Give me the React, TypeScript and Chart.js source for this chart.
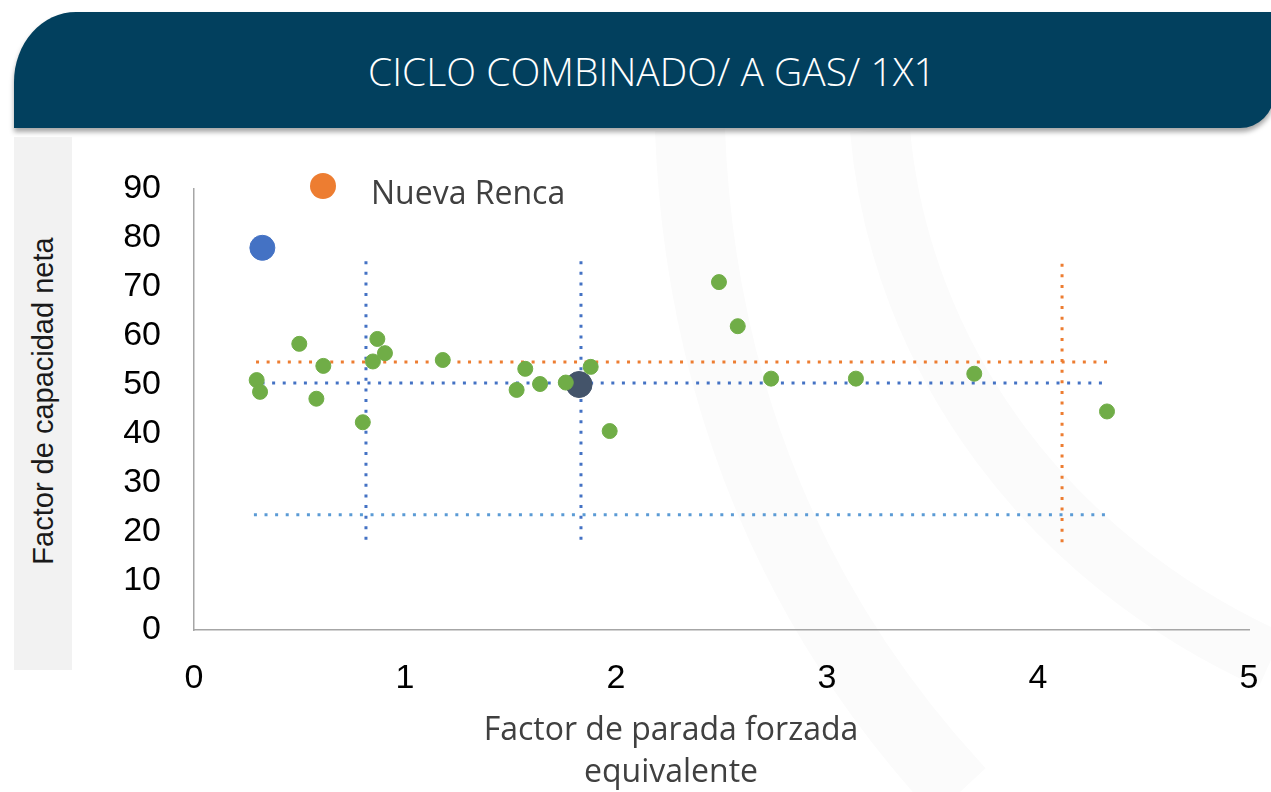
import React, { useEffect, useRef } from "react";
import { Chart, registerables } from "chart.js";

Chart.register(...registerables);

// ---- Data ----
const titleText = "CICLO COMBINADO/ A GAS/ 1X1";
const legendLabel = "Nueva Renca";
const yAxisTitle = "Factor de capacidad neta";
const xAxisTitleLines = ["Factor de parada forzada", "equivalente"];

const xMin = 0;
const xMax = 5;
const xStep = 1;
const yMin = 0;
const yMax = 90;
const yStep = 10;

// Plants (green)
const plantX = [0.297, 0.313, 0.499, 0.58, 0.613, 0.8, 0.848, 0.869, 0.905, 1.179, 1.529, 1.57, 1.64, 1.762, 1.88, 1.97, 2.488, 2.577, 2.735, 3.137, 3.698, 4.327];
const plantY = [51.0, 48.6, 58.4, 47.2, 53.9, 42.4, 54.8, 59.4, 56.5, 55.1, 49.0, 53.3, 50.2, 50.5, 53.7, 40.6, 71.0, 62.0, 51.3, 51.3, 52.3, 44.6];

// Highlight points
const blueX = [0.324];
const blueY = [78.0];
const navyX = [1.825];
const navyY = [50.1];

// Reference dotted lines (start / end)
const orangeHX = [0.294, 4.34];
const orangeHY = [54.7, 54.7];
const blueHX = [0.32, 4.33];
const blueHY = [50.4, 50.4];
const lowHX = [0.284, 4.34];
const lowHY = [23.5, 23.5];
const blueV1X = [0.815, 0.815];
const blueV1Y = [18.4, 75.3];
const blueV2X = [1.834, 1.834];
const blueV2Y = [18.4, 75.5];
const orangeVX = [4.114, 4.114];
const orangeVY = [17.9, 75.3];

const pts = (xs: number[], ys: number[]) => xs.map((x, i) => ({ x, y: ys[i] }));

const dotted = (label: string, xs: number[], ys: number[], color: string) => ({
  label,
  data: pts(xs, ys),
  showLine: true,
  borderColor: color,
  backgroundColor: color,
  borderWidth: 3,
  borderDash: [3, 7.6],
  borderCapStyle: "butt" as const,
  pointRadius: 0,
  pointHoverRadius: 0,
  fill: false,
  order: 10,
});

export default function App() {
  const canvasRef = useRef<HTMLCanvasElement | null>(null);

  useEffect(() => {
    const prevMargin = document.body.style.margin;
    document.body.style.margin = "0";
    if (!canvasRef.current) return;
    const chart = new Chart(canvasRef.current, {
      type: "scatter",
      data: {
        datasets: [
          {
            label: "Plantas",
            data: pts(plantX, plantY),
            backgroundColor: "#70AD47",
            borderColor: "#70AD47",
            pointRadius: 7.5,
            order: 1,
          },
          {
            label: "Promedio",
            data: pts(navyX, navyY),
            backgroundColor: "#44546A",
            borderColor: "#44546A",
            pointRadius: 13,
            order: 2,
          },
          {
            label: "Referencia",
            data: pts(blueX, blueY),
            backgroundColor: "#4472C4",
            borderColor: "#4472C4",
            pointRadius: 12.5,
            order: 3,
          },
          dotted("Nueva Renca H", orangeHX, orangeHY, "#ED7D31"),
          dotted("Media H", blueHX, blueHY, "#4472C4"),
          dotted("Bajo H", lowHX, lowHY, "#5B9BD5"),
          dotted("V1", blueV1X, blueV1Y, "#4472C4"),
          dotted("V2", blueV2X, blueV2Y, "#4472C4"),
          dotted("Nueva Renca V", orangeVX, orangeVY, "#ED7D31"),
        ],
      },
      options: {
        responsive: false,
        animation: false,
        maintainAspectRatio: false,
        layout: { padding: { left: 0, top: 189, right: 22, bottom: 0 } },
        plugins: {
          legend: { display: false },
          tooltip: { enabled: false },
          title: { display: false },
        },
        scales: {
          x: {
            type: "linear",
            min: xMin,
            max: xMax,
            afterFit: (s: any) => {
              s.height = 162;
              s.paddingLeft = 0;
              s.paddingRight = 0;
            },
            ticks: {
              stepSize: xStep,
              color: "#000000",
              padding: 28,
              font: { family: "Arial, 'Liberation Sans', sans-serif", size: 34 },
            },
            grid: { display: true, drawOnChartArea: false, drawTicks: false },
            border: { display: true, color: "#A6A6A6", width: 1.5 },
          },
          y: {
            type: "linear",
            min: yMin,
            max: yMax,
            afterFit: (s: any) => {
              s.width = 194;
              s.paddingTop = 0;
              s.paddingBottom = 0;
            },
            ticks: {
              stepSize: yStep,
              color: "#000000",
              padding: 33,
              font: { family: "Arial, 'Liberation Sans', sans-serif", size: 34 },
            },
            grid: { display: true, drawOnChartArea: false, drawTicks: false },
            border: { display: true, color: "#A6A6A6", width: 1.5 },
          },
        },
      },
    });
    return () => {
      chart.destroy();
      document.body.style.margin = prevMargin;
    };
  }, []);

  return (
    <div
      style={{
        position: "fixed",
        left: 0,
        top: 0,
        width: 1271,
        height: 792,
        overflow: "hidden",
        background: "#ffffff",
      }}
    >
      {/* faint watermark arcs */}
      <svg
        width={1271}
        height={792}
        style={{ position: "absolute", left: 0, top: 0 }}
      >
        <path d="M 690 130 C 700 400, 800 620, 960 792" stroke="#fbfbfb" strokeWidth={70} fill="none" />
        <path d="M 880 130 C 900 360, 1050 560, 1271 660" stroke="#fbfbfb" strokeWidth={60} fill="none" />
      </svg>

      {/* header banner */}
      <div
        style={{
          position: "absolute",
          left: 14,
          top: 12,
          width: 1260,
          height: 116,
          background: "#02405E",
          borderTopLeftRadius: "62px 70px",
          borderBottomRightRadius: 34,
          boxShadow: "0 4px 5px rgba(0,0,0,0.35)",
        }}
      />
      <div
        style={{
          position: "absolute",
          left: 0,
          top: 12,
          width: 1304,
          height: 116,
          display: "flex",
          alignItems: "center",
          justifyContent: "center",
          color: "#ffffff",
          fontFamily: "'Open Sans', 'Noto Sans', sans-serif",
          fontWeight: 300,
          fontSize: 39,
          whiteSpace: "nowrap",
        }}
      >
        {titleText}
      </div>

      {/* grey y-title box */}
      <div
        style={{
          position: "absolute",
          left: 14,
          top: 137,
          width: 58,
          height: 533,
          background: "#F2F2F2",
        }}
      />
      <div
        style={{
          position: "absolute",
          left: 43,
          top: 401,
          transform: "translate(-50%, -50%) rotate(-90deg)",
          fontFamily: "Arial, 'Liberation Sans', sans-serif",
          fontSize: 29,
          color: "#1a1a1a",
          whiteSpace: "nowrap",
        }}
      >
        {yAxisTitle}
      </div>

      <canvas
        ref={canvasRef}
        width={1271}
        height={792}
        style={{ position: "absolute", left: 0, top: 0, width: 1271, height: 792 }}
      />

      {/* legend */}
      <div
        style={{
          position: "absolute",
          left: 310,
          top: 173,
          width: 26,
          height: 26,
          borderRadius: "50%",
          background: "#ED7D31",
        }}
      />
      <div
        style={{
          position: "absolute",
          left: 371,
          top: 170,
          lineHeight: "44px",
          fontFamily: "'Open Sans', 'Noto Sans', sans-serif",
          fontSize: 32,
          color: "#404040",
          whiteSpace: "nowrap",
        }}
      >
        {legendLabel}
      </div>

      {/* x axis title */}
      <div
        style={{
          position: "absolute",
          left: 451,
          top: 707,
          width: 440,
          textAlign: "center",
          lineHeight: "42px",
          fontFamily: "'Open Sans', 'Noto Sans', sans-serif",
          fontSize: 32,
          color: "#404040",
        }}
      >
        {xAxisTitleLines.map((l) => (
          <div key={l}>{l}</div>
        ))}
      </div>
    </div>
  );
}
